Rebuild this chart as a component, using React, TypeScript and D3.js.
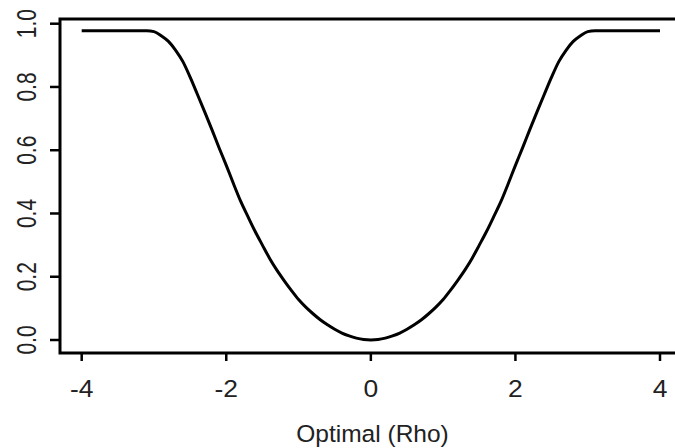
import { scaleLinear, line, curveMonotoneX } from 'd3';

// curve readings (x = rho, y = value), left half then mirrored right half
const rhoValues = [
  -4, -3.5, -3.1, -3.0, -2.9, -2.8, -2.7, -2.6, -2.5, -2.4, -2.3, -2.2, -2.1, -2.0, -1.9, -1.8, -1.7,
  -1.6, -1.5, -1.4, -1.3, -1.2, -1.1, -1.0, -0.9, -0.8, -0.7, -0.6, -0.5, -0.4, -0.3, -0.2, -0.1, 0,
  0.1, 0.2, 0.3, 0.4, 0.5, 0.6, 0.7, 0.8, 0.9, 1.0, 1.1, 1.2, 1.3, 1.4, 1.5, 1.6, 1.7, 1.8, 1.9, 2.0,
  2.1, 2.2, 2.3, 2.4, 2.5, 2.6, 2.7, 2.8, 2.9, 3.0, 3.1, 3.5, 4,
];
const curveValues = [
  0.978, 0.978, 0.978, 0.975, 0.962, 0.944, 0.916, 0.88, 0.831, 0.777, 0.722, 0.666, 0.608, 0.552,
  0.494, 0.438, 0.39, 0.343, 0.3, 0.258, 0.221, 0.188, 0.157, 0.128, 0.104, 0.083, 0.064, 0.048, 0.034,
  0.022, 0.013, 0.006, 0.0015, 0,
  0.0015, 0.006, 0.013, 0.022, 0.034, 0.048, 0.064, 0.083, 0.104, 0.128, 0.157, 0.188, 0.221, 0.258,
  0.3, 0.343, 0.39, 0.438, 0.494, 0.552, 0.608, 0.666, 0.722, 0.777, 0.831, 0.88, 0.916, 0.944, 0.962,
  0.975, 0.978, 0.978, 0.978,
];
const xTicks = [-4, -2, 0, 2, 4];
const yTicks = [0, 0.2, 0.4, 0.6, 0.8, 1.0];
const xTitle = 'Optimal (Rho)';

const W = 675;
const H = 448;
const FONT = "'Liberation Sans', Arial, sans-serif";

export default function App() {
  // plot box: left 60, top 19, bottom 353, right runs off the page
  const x = scaleLinear().domain([-4, 4]).range([81.7, 660]);
  const y = scaleLinear().domain([0, 1]).range([340, 23.7]);

  const pts: [number, number][] = rhoValues.map((r, i) => [r, curveValues[i]]);
  const path = line<[number, number]>()
    .x((d) => x(d[0]))
    .y((d) => y(d[1]))
    .curve(curveMonotoneX)(pts);

  return (
    <svg
      width={W}
      height={H}
      style={{ position: 'absolute', left: 0, top: 0, background: '#fff' }}
      fontFamily={FONT}
    >
      <rect width={W} height={H} fill="#fff" />

      {/* box */}
      <path d="M690,19H60V353H690" fill="none" stroke="#000" strokeWidth={3} />

      {/* y axis */}
      {yTicks.map((t) => (
        <g key={'y' + t}>
          <line x1={50} x2={60} y1={y(t)} y2={y(t)} stroke="#000" strokeWidth={2.5} />
          <text
            transform={`translate(26,${y(t)}) scale(1.3,1) rotate(-90)`}
            textAnchor="middle"
            dominantBaseline="central"
            fontSize={21}
            fill="#222"
          >
            {t.toFixed(1)}
          </text>
        </g>
      ))}

      {/* x axis */}
      {xTicks.map((t) => (
        <g key={'x' + t}>
          <line x1={x(t)} x2={x(t)} y1={353} y2={361} stroke="#000" strokeWidth={2.5} />
          <text
            transform={`translate(${x(t)},397) scale(1.15,1)`}
            textAnchor="middle"
            fontSize={23}
            fill="#222"
          >
            {t}
          </text>
        </g>
      ))}

      <text x={372.5} y={442} textAnchor="middle" fontSize={24.5} fill="#222">
        {xTitle}
      </text>

      <path d={path ?? ''} fill="none" stroke="#000" strokeWidth={3} strokeLinejoin="round" />
    </svg>
  );
}
